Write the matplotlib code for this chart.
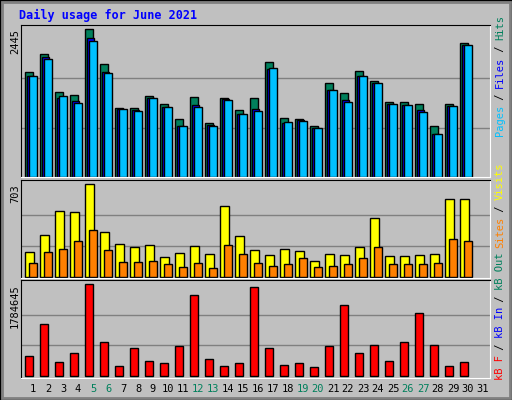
import matplotlib
matplotlib.use("Agg")
import matplotlib.pyplot as plt
from matplotlib.patches import Rectangle

days = list(range(1, 31))
hits  = [1732,2030,1400,1350,2445,1864,1134,1134,1333,1200,951,1317,885,1300,1101,1300,1897,968,951,835,1549,1383,1748,1582,1234,1234,1200,835,1200,2213]
files = [1665,1980,1300,1250,2296,1732,1117,1101,1300,1151,835,1184,852,1283,1034,1117,1781,885,935,802,1433,1267,1665,1549,1200,1184,1101,703,1167,2180]
pages = [1665,1947,1333,1217,2246,1715,1117,1084,1300,1151,835,1151,835,1267,1034,1084,1798,902,918,802,1433,1234,1665,1549,1200,1184,1068,703,1167,2180]
visits = [185,315,497,490,703,338,246,223,239,147,178,231,170,536,307,200,162,208,193,117,170,162,223,444,155,155,162,170,589,589]
sites  = [102,185,208,269,353,200,109,109,117,94,71,102,63,239,170,102,79,94,140,71,79,94,140,223,94,94,94,102,284,269]
kbytes = [376000,999000,260000,435000,1784645,649000,182000,532000,279000,240000,571000,1564000,318000,182000,240000,1720000,532000,201000,240000,162000,571000,1369000,435000,591000,279000,649000,1214000,591000,182000,260000]
day_labels = [str(d) for d in range(1, 32)]
weekend = {5, 6, 12, 13, 19, 20, 26, 27}
title = "Daily usage for June 2021"

BG = "#c0c0c0"
fig = plt.figure(figsize=(5.12, 4.0), dpi=100, facecolor=BG)
W, H = 512, 400
def rect(x0, y0, x1, y1):
    return [x0 / W, 1 - y1 / H, (x1 - x0) / W, (y1 - y0) / H]

# outer frame
fig.patches.append(Rectangle((0, 0), 1, 1, transform=fig.transFigure, fill=False, ec="black", lw=2))
fig.patches.append(Rectangle((2/W, 2/H), 1-4/W, 1-4/H, transform=fig.transFigure, fill=False, ec="#808080", lw=2))

mono = "DejaVu Sans Mono"
fig.text(19/W, 1 - 15/H, title, color="#0000ff", fontsize=8.5, fontweight="bold", family=mono, va="center")

def setup(ax, ymax_val, ylim):
    ax.set_facecolor(BG)
    ax.set_xlim(0.333, 31.6)
    ax.set_ylim(*ylim)
    ax.set_xticks([]); ax.set_yticks([])
    for v in (ymax_val / 3, 2 * ymax_val / 3):
        ax.axhline(v, color="#808080", lw=1, zorder=0)
    ax.spines["top"].set_color("black"); ax.spines["left"].set_color("black")
    ax.spines["bottom"].set_color("white"); ax.spines["right"].set_color("white")

ek = dict(edgecolor="black", linewidth=1, align="edge")
ax1 = fig.add_axes(rect(21, 25, 490, 177))
setup(ax1, 2445, (-4, 2516))
ax1.bar([d - 0.38 for d in days], hits, width=0.49, color="#00805c", **ek)
ax1.bar([d - 0.29 for d in days], files, width=0.49, color="#0000ff", **ek)
ax1.bar([d - 0.155 for d in days], pages, width=0.53, color="#00c0ff", **ek)

ax2 = fig.add_axes(rect(21, 180, 490, 278))
setup(ax2, 703, (-10, 736))
ax2.bar([d - 0.38 for d in days], visits, width=0.56, color="#ffff00", **ek)
ax2.bar([d - 0.155 for d in days], sites, width=0.53, color="#ff8000", **ek)

ax3 = fig.add_axes(rect(21, 280, 490, 378))
setup(ax3, 1784645, (-45000, 1862500))
ax3.bar([d - 0.38 for d in days], kbytes, width=0.49, color="#ff0000", **ek)

# left max labels
fs = 7.5
fig.text(15/W, 1 - 29/H, "2445", rotation=90, ha="center", va="top", fontsize=fs, family=mono)
fig.text(15/W, 1 - 184/H, "703", rotation=90, ha="center", va="top", fontsize=fs, family=mono)
fig.text(15/W, 1 - 284/H, "1784645", rotation=90, ha="center", va="top", fontsize=fs, family=mono)

# right legends, stacked bottom-to-top
def stack(y_bottom_px, parts):
    y = y_bottom_px
    for txt, col in parts:
        t = fig.text(500/W, 1 - y/H, txt, rotation=90, ha="center", va="bottom",
                     fontsize=fs, family=mono, color=col)
        y -= len(txt) * 6.0
stack(136, [("Pages", "#00c0ff"), (" / ", "#000000"), ("Files", "#0000ff"), (" / ", "#000000"), ("Hits", "#00805c")])
stack(380, [("kB F", "#ff0000"), (" / ", "#000000"), ("kB In", "#0000ff"), (" / ", "#000000"), ("kB Out", "#00805c"),
            (" ", "#000000"), ("Sites", "#ff8000"), (" / ", "#000000"), ("Visits", "#ffff00")])

# day labels
for i, lab in enumerate(day_labels):
    d = i + 1
    xpx = 33 + 15 * i
    fig.text(xpx/W, 1 - 389/H, lab, ha="center", va="center", fontsize=fs, family=mono,
             color="#00805c" if d in weekend else "black")

fig.savefig("out.png", dpi=100, facecolor=BG)
